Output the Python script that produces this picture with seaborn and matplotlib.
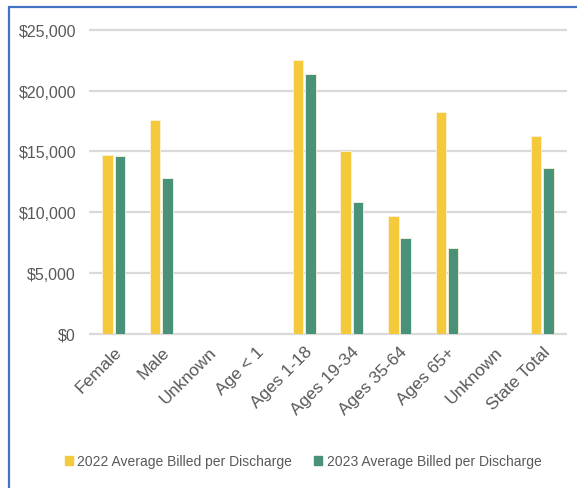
import pandas as pd
import seaborn as sns
import matplotlib.pyplot as plt
from matplotlib.lines import Line2D
from matplotlib.ticker import FuncFormatter

categories = ['Female', 'Male', 'Unknown', 'Age < 1', 'Ages 1-18', 'Ages 19-34',
              'Ages 35-64', 'Ages 65+', 'Unknown ', 'State Total']
tickLabels = ['Female', 'Male', 'Unknown', 'Age < 1', 'Ages 1-18', 'Ages 19-34',
              'Ages 35-64', 'Ages 65+', 'Unknown', 'State Total']
avg2022 = [14720, 17620, 0, 0, 22530, 15020, 9680, 18280, 0, 16280]
avg2023 = [14610, 12850, 0, 0, 21360, 10830, 7890, 7050, 0, 13620]
seriesNames = ['2022 Average Billed per Discharge', '2023 Average Billed per Discharge']

# long format for seaborn
df = pd.DataFrame({
    'Category': categories * 2,
    'Value': avg2022 + avg2023,
    'Series': [seriesNames[0]] * len(categories) + [seriesNames[1]] * len(categories),
})

sns.set_style('white')
plt.rcParams['font.family'] = ['Liberation Sans', 'DejaVu Sans']

fig = plt.figure(figsize=(5.77, 4.89), dpi=100)
ax = fig.add_axes([0.156, 0.315, 0.825, 0.622])

palette = {seriesNames[0]: '#F4C93B', seriesNames[1]: '#4A917A'}
sns.barplot(data=df, x='Category', y='Value', hue='Series', palette=palette,
            order=categories, width=0.52, gap=0.15, ax=ax, saturation=1,
            edgecolor='#FBF3DC', linewidth=0.6, legend=False)

ax.set_ylim(0, 25000)
ax.set_yticks(range(0, 25001, 5000))
ax.yaxis.set_major_formatter(FuncFormatter(lambda v, p: '${:,.0f}'.format(v)))
ax.grid(axis='y', color='#D9D9D9', linewidth=1.6, clip_on=False)
ax.set_axisbelow(True)
for s in ax.spines.values():
    s.set_visible(False)
ax.set_xlim(-0.5, len(categories) - 0.5)
ax.set_xticks(range(len(categories)))
ax.set_xticklabels(tickLabels, rotation=45, ha='right', rotation_mode='anchor')
ax.tick_params(axis='both', length=0, labelcolor='#595959')
ax.tick_params(axis='y', pad=10, labelsize=11.5)
ax.tick_params(axis='x', pad=7, labelsize=12.5)
ax.set_xlabel('')
ax.set_ylabel('')

# legend at bottom
handles = [plt.Rectangle((0, 0), 1, 1, color=palette[n]) for n in seriesNames]
fig.legend(handles, seriesNames, loc='center', bbox_to_anchor=(0.525, 0.055), ncol=2,
           frameon=False, fontsize=10, labelcolor='#595959', handlelength=0.6,
           handleheight=0.6, handletextpad=0.3, columnspacing=1.6)

# blue chart border (cropped on right and bottom)
fig.add_artist(Line2D([8.5 / 577, 8.5 / 577], [0, 1 - 8 / 489], color='#4472C4', linewidth=1.6))
fig.add_artist(Line2D([8.5 / 577, 1], [1 - 8 / 489, 1 - 8 / 489], color='#4472C4', linewidth=1.6))

plt.savefig('out.png', dpi=100)
